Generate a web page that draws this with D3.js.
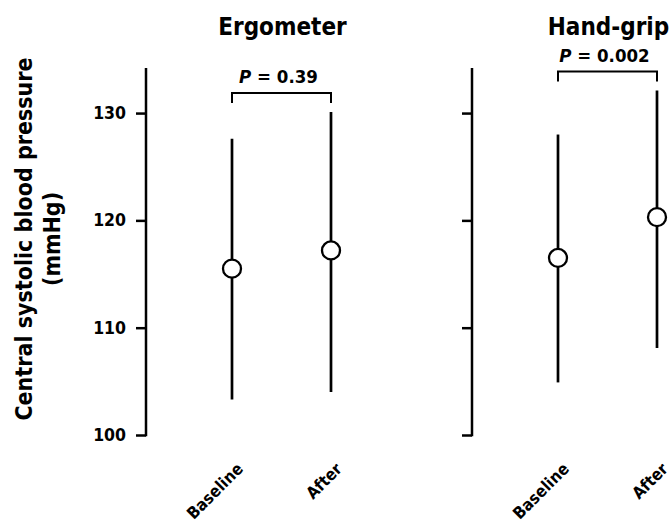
<!DOCTYPE html>
<html>
<head>
<meta charset="utf-8">
<script src="https://d3js.org/d3.v7.min.js"></script>
<style>
  body { margin: 0; background: #fff; }
  svg text { font-family: "DejaVu Sans Condensed", "DejaVu Sans", sans-serif; font-stretch: condensed; font-weight: bold; fill: #000; }
</style>
</head>
<body>
<script>
  // data (mean with whiskers)
  let groups = ["Ergometer", "Hand-grip"];
  let conditions = ["Baseline", "After"];
  let means = [[115.5, 117.2], [116.5, 120.3]];
  let upper = [[127.6, 130.1], [128.0, 132.1]];
  let lower = [[103.3, 104.0], [104.9, 108.1]];
  let pValues = ["0.39", "0.002"];
  let yTicks = [100, 110, 120, 130];

  let width = 672, height = 524;
  let svg = d3.select("body").append("svg").attr("width", width).attr("height", height);

  let y = d3.scaleLinear().domain([100, 134.2]).range([435, 68]);
  let panelX = d3.scalePoint().domain(groups).range([146, 472]);
  let x = d3.scalePoint().domain(conditions).range([86, 185]);

  // y title
  let yt = svg.append("text")
      .attr("transform", "translate(0,239) rotate(-90)")
      .attr("text-anchor", "middle")
      .style("font-size", "23px");
  yt.append("tspan").attr("x", 0).attr("y", 32).text("Central systolic blood pressure");
  yt.append("tspan").attr("x", 0).attr("y", 60).text("(mmHg)");

  groups.forEach(function(grp, gi){
      let g = svg.append("g").attr("transform", "translate(" + panelX(grp) + ",0)");

      let axis = d3.axisLeft(y).tickValues(yTicks).tickSize(10).tickPadding(10);
      if (gi > 0) axis.tickFormat("");
      let ax = g.append("g").call(axis);
      ax.select(".domain").remove();
      ax.selectAll("line").attr("stroke", "#000").attr("stroke-width", 2.5);
      ax.selectAll("text").style("font-size", "17.5px");
      g.append("line")
          .attr("x1", 0).attr("x2", 0)
          .attr("y1", y(134.2)).attr("y2", y(100) + 1.2)
          .attr("stroke", "#000").attr("stroke-width", 2.5);

      let rows = conditions.map(function(c, i){
          return {c: c, m: means[gi][i], hi: upper[gi][i], lo: lower[gi][i]};
      });

      g.selectAll(".whisker").data(rows).enter()
          .append("line")
          .attr("x1", d => x(d.c)).attr("x2", d => x(d.c))
          .attr("y1", d => y(d.hi)).attr("y2", d => y(d.lo))
          .attr("stroke", "#000").attr("stroke-width", 2.7);

      g.selectAll("circle").data(rows).enter()
          .append("circle")
          .attr("cx", d => x(d.c)).attr("cy", d => y(d.m))
          .attr("r", 9)
          .attr("fill", "#fff").attr("stroke", "#000").attr("stroke-width", 2.3);

      // title
      g.append("text")
          .attr("x", (x("Baseline") + x("After")) / 2 + 1)
          .attr("y", 35)
          .attr("text-anchor", "middle")
          .style("font-size", "24px")
          .text(grp);

      // bracket + p value
      let by = y(d3.max(upper[gi])) - 19;
      let x0 = x("Baseline"), x1 = x("After");
      g.append("path")
          .attr("d", "M" + x0 + "," + (by + 10) + "V" + by + "H" + x1 + "V" + (by + 10))
          .attr("fill", "none").attr("stroke", "#000").attr("stroke-width", 2);
      let pt = g.append("text")
          .attr("x", (x0 + x1) / 2 - 3)
          .attr("y", by - 10)
          .attr("text-anchor", "middle")
          .style("font-size", "18.5px");
      pt.append("tspan").style("font-style", "italic").text("P");
      pt.append("tspan").text(" = " + pValues[gi]);

      // category labels
      g.selectAll(".xl").data(conditions).enter()
          .append("text")
          .attr("transform", d => "translate(" + (x(d) + 12) + ",470) rotate(-45)")
          .attr("text-anchor", "end")
          .style("font-size", "16.5px")
          .text(d => d);
  });
</script>
</body>
</html>
